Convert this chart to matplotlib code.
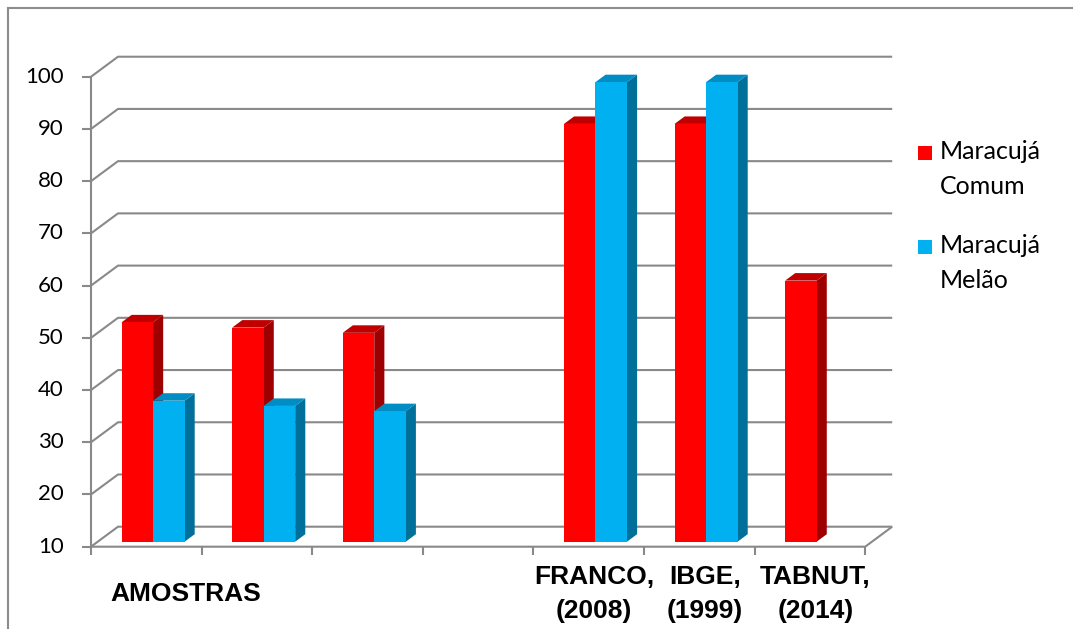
import numpy as np
import matplotlib.pyplot as plt
from matplotlib.patches import Polygon, Rectangle
from matplotlib.lines import Line2D

categories = ["AMOSTRAS", "", "", "", "FRANCO,\n(2008)", "IBGE,\n(1999)", "TABNUT,\n(2014)"]
comum = [52, 51, 50, np.nan, 90, 90, 60]
melao = [37, 36, 35, np.nan, 98, 98, np.nan]
series_names = ["Maracujá\nComum", "Maracujá\nMelão"]
yticks = list(range(10, 101, 10))

# colours: front face, top face, side face
red = ("#ff0000", "#c00000", "#9e0000")
blue = ("#00b0f0", "#008dc4", "#006f9a")

W, H = 1073, 629
# front plane of the chart in pixels
X0, CAT_PX = 91, 110.6
Y10, UNIT_PX = 546.7, 5.222
# depth of the box and of each bar
DX, DY = 27 / CAT_PX, 20 / UNIT_PX
BAR_D0, BAR_DEPTH = 0.25, 0.375
BAR_W = 0.285
GRID = "#898989"


def px(xp, yp):
    return (xp - X0) / CAT_PX, 10 + (Y10 - yp) / UNIT_PX


def bar3d(ax, x_left, value, colors):
    if np.isnan(value):
        return
    face, top, side = colors
    x1 = x_left + BAR_D0 * DX
    y1 = 10 + BAR_D0 * DY
    x2 = x1 + BAR_W
    y2 = value + BAR_D0 * DY
    ex, ey = BAR_DEPTH * DX, BAR_DEPTH * DY
    ax.add_patch(Polygon([(x2, y1), (x2 + ex, y1 + ey), (x2 + ex, y2 + ey), (x2, y2)],
                         closed=True, facecolor=side, edgecolor="none", zorder=3))
    ax.add_patch(Polygon([(x1, y2), (x1 + ex, y2 + ey), (x2 + ex, y2 + ey), (x2, y2)],
                         closed=True, facecolor=top, edgecolor="none", zorder=3))
    ax.bar(x1, value - 10, BAR_W, bottom=y1, align="edge", color=face, zorder=3)


fig = plt.figure(figsize=(W / 100, H / 100), dpi=100)
ax = fig.add_axes([0, 0, 1, 1])
ax.set_xlim(px(0, 0)[0], px(W, 0)[0])
ax.set_ylim(px(0, H)[1], px(0, 0)[1])
ax.axis("off")

n = len(categories)
gkw = dict(color=GRID, lw=1.5, zorder=1, solid_capstyle="butt")

# side wall and back wall gridlines
for v in yticks:
    ax.plot([0, DX, n + DX], [v, v + DY, v + DY], **gkw)
    ax.plot([-0.08, 0], [v, v], **gkw)
    ax.text(px(64, 0)[0], v, str(v), ha="right", va="center",
            fontsize=16, family="Lato", color="black")

# floor and front axis
ax.plot([0, n, n + DX], [10, 10, 10 + DY], **gkw)
ax.plot([0, 0], [10, yticks[-1]], **gkw)
for i in range(n + 1):
    ax.plot([i, i], [10, 10 - 1.6], **gkw)

for i in range(n):
    bar3d(ax, i + 0.5 - BAR_W, comum[i], red)
    bar3d(ax, i + 0.5, melao[i], blue)

# category labels
lab_y = px(0, 594)[1]
for i, lab in enumerate(categories):
    if not lab:
        continue
    x = px(186, 0)[0] if i == 0 else i + 0.55
    ax.text(x, lab_y, lab, ha="center", va="center", fontsize=19,
            fontweight="bold", family="Liberation Sans", linespacing=1.48)

# legend
for k, (name, col) in enumerate(zip(series_names, (red, blue))):
    top_px = 146 + k * 94
    fig.patches.append(Rectangle((918 / W, 1 - (top_px + 14) / H), 14 / W, 14 / H,
                                 transform=fig.transFigure, facecolor=col[0],
                                 edgecolor="none"))
    fig.text(940 / W, 1 - (top_px + 23) / H, name, ha="left", va="center",
             fontsize=18, family="Lato", linespacing=1.63)

# outer border
fig.add_artist(Line2D([8 / W, 8 / W], [0, 1 - 8 / H], transform=fig.transFigure,
                      color="#8c8c8c", lw=1.5))
fig.add_artist(Line2D([8 / W, 1], [1 - 8 / H, 1 - 8 / H], transform=fig.transFigure,
                      color="#8c8c8c", lw=1.5))

fig.savefig("out.png", dpi=100)
